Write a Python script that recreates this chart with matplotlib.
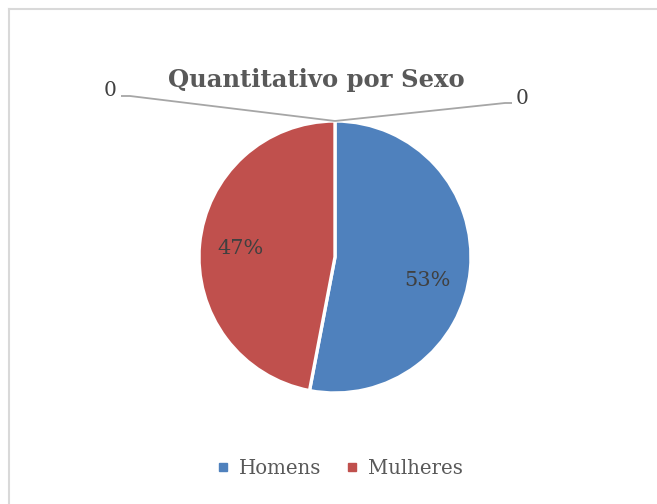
import matplotlib
matplotlib.use("Agg")
import matplotlib.pyplot as plt
from matplotlib.lines import Line2D
import numpy as np

# Data
categories = ["Homens", "Mulheres"]
values = [53, 47]
colors = ["#4F81BD", "#C0504D"]
zero_labels = ["0", "0"]
title = "Quantitativo por Sexo"

W, H = 657, 504
fig = plt.figure(figsize=(W / 100, H / 100), dpi=100)
ax = fig.add_axes([0, 0, 1, 1])
ax.set_xlim(0, W)
ax.set_ylim(0, H)
ax.set_aspect("equal")
ax.axis("off")

font = "DejaVu Serif"
cx, cy, R = 335, 247, 136

wedges, texts, autotexts = ax.pie(
    values, colors=colors, startangle=90, counterclock=False,
    center=(cx, cy), radius=R, frame=True,
    autopct=lambda p: f"{p:.0f}%", pctdistance=0.7,
    wedgeprops=dict(edgecolor="white", linewidth=2.4),
    textprops=dict(fontsize=15, color="#404040", family=font),
)
ax.set_xlim(0, W)
ax.set_ylim(0, H)
ax.axis("off")
# nudge the first label slightly lower, as in the reference
x0, y0 = autotexts[0].get_position()
autotexts[0].set_position((x0 - 2, y0 - 15))

# leader lines for zero-valued slices
top = (cx, cy + R)
lc = "#A6A6A6"
ax.plot([top[0], 130, 121], [top[1], 408, 408], color=lc, lw=1.3, solid_capstyle="butt")
ax.plot([top[0], 505, 512], [top[1], 401, 401], color=lc, lw=1.3, solid_capstyle="butt")
ax.text(110, 413, zero_labels[0], ha="center", va="center", fontsize=14.5,
        color="#404040", family=font)
ax.text(522, 406, zero_labels[1], ha="center", va="center", fontsize=14.5,
        color="#404040", family=font)

# title
ax.text(316, 424, title, ha="center", va="center", fontsize=17.5,
        fontweight="bold", color="#595959", family=font)

# frame (top and left visible)
ax.plot([9, 9], [0, H - 9], color="#D9D9D9", lw=1.5)
ax.plot([9, W], [H - 9, H - 9], color="#D9D9D9", lw=1.5)

handles = [Line2D([], [], marker="s", linestyle="none", markersize=6,
                  markerfacecolor=c, markeredgecolor=c) for c in colors]
leg = ax.legend(handles, categories, loc="center", bbox_to_anchor=(340 / W, 36 / H),
                ncol=2, frameon=False, handlelength=0.6, handletextpad=0.5,
                columnspacing=1.3, prop=dict(family=font, size=14.2))
for t in leg.get_texts():
    t.set_color("#595959")

fig.savefig("out.png", dpi=100, facecolor="white")
